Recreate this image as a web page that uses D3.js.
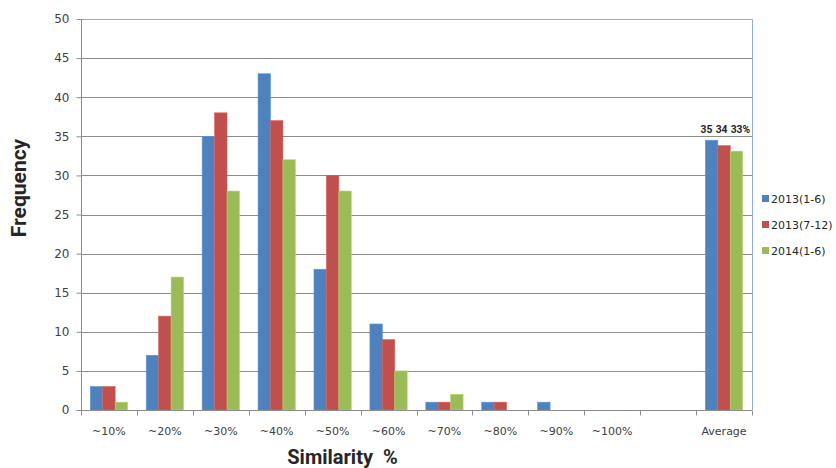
<!DOCTYPE html>
<html>
<head>
<meta charset="utf-8">
<script src="https://cdn.jsdelivr.net/npm/d3@7"></script>
<style>
  html, body { margin: 0; padding: 0; background: #fff; }
  svg { display: block; font-family: "DejaVu Sans", sans-serif; }
</style>
</head>
<body>
<svg id="chart" width="836" height="468"></svg>
<script>
// Similarity histogram: frequency per similarity band, three periods
const categories = ["~10%", "~20%", "~30%", "~40%", "~50%", "~60%", "~70%", "~80%", "~90%", "~100%", "", "Average"];
const seriesNames = ["2013(1-6)", "2013(7-12)", "2014(1-6)"];
const seriesColors = ["#4F81BD", "#C0504D", "#9BBB59"];
const values2013a = [3, 7, 35, 43, 18, 11, 1, 1, 1, 0, null, 34.5];
const values2013b = [3, 12, 38, 37, 30, 9, 1, 1, 0, 0, null, 33.8];
const values2014a = [1, 17, 28, 32, 28, 5, 2, 0, 0, 0, null, 33.1];
const yTicks = [0, 5, 10, 15, 20, 25, 30, 35, 40, 45, 50];

const seriesValues = [values2013a, values2013b, values2014a];
const averageIndex = categories.indexOf("Average");

const svg = d3.select("#chart");
const plotLeft = 81, plotRight = 752, plotTop = 19, plotBottom = 410;
const axisGray = "#8c8c8c";
const textGray = "#404040";

const x0 = d3.scaleBand().domain(d3.range(categories.length)).range([plotLeft, plotRight]).padding(0);
const slot = x0.bandwidth();
// three bars per category, gap between groups 1.5 bar widths
const x1 = d3.scaleBand().domain(d3.range(seriesNames.length)).range([slot / 6, slot * 5 / 6]).padding(0);
const y = d3.scaleLinear().domain([0, 50]).range([plotBottom, plotTop]);

// horizontal gridlines
svg.append("g")
  .selectAll("line")
  .data(yTicks.filter(t => t > 0 && t < 50))
  .join("line")
  .attr("x1", plotLeft).attr("x2", plotRight)
  .attr("y1", d => Math.round(y(d)) + 0.5).attr("y2", d => Math.round(y(d)) + 0.5)
  .attr("stroke", axisGray).attr("stroke-width", 1);

// plot-area border (top and right)
svg.append("path")
  .attr("d", `M${plotLeft},${Math.round(y(50)) + 0.5}H${plotRight + 0.5}V${plotBottom}`)
  .attr("fill", "none").attr("stroke", "#8eaadb").attr("stroke-width", 1);

// bars
const groups = svg.append("g")
  .selectAll("g")
  .data(categories.map((c, i) => i))
  .join("g")
  .attr("transform", i => `translate(${x0(i)},0)`);

groups.selectAll("rect")
  .data(i => seriesValues.map((vals, s) => ({ s, v: vals[i] })).filter(d => d.v != null && d.v > 0))
  .join("rect")
  .attr("x", d => x1(d.s))
  .attr("width", x1.bandwidth())
  .attr("y", d => y(d.v))
  .attr("height", d => y(0) - y(d.v))
  .attr("fill", d => seriesColors[d.s])
  .attr("stroke", d => d3.color(seriesColors[d.s]).brighter(0.4))
  .attr("stroke-width", 0.6);

// value labels on the Average group (nudged apart so they do not collide)
const pct = d3.format(".0f");
const avgLabels = seriesValues.map((vals, s) => ({ s, v: vals[averageIndex] }));
const labelY = y(d3.max(avgLabels, d => d.v)) - 7;
svg.append("g")
  .selectAll("text")
  .data(avgLabels)
  .join("text")
  .attr("x", d => x0(averageIndex) + x1(d.s) + x1.bandwidth() / 2 - 11 + d.s * 2.6)
  .attr("y", labelY)
  .attr("text-anchor", "start")
  .attr("font-family", "Roboto, sans-serif")
  .attr("font-size", 10.3)
  .attr("font-weight", "bold")
  .attr("fill", "#262626")
  .text(d => pct(d.v) + (d.s === seriesNames.length - 1 ? "%" : ""));

// y axis
const yAxis = d3.axisLeft(y).tickValues(yTicks).tickSize(5).tickPadding(7);
const gy = svg.append("g").attr("transform", `translate(${plotLeft + 0.5},0)`).call(yAxis);
gy.select(".domain").attr("stroke", axisGray).attr("d", `M0,${plotTop}V${plotBottom + 0.5}`);
gy.selectAll(".tick line").attr("stroke", axisGray);
gy.selectAll(".tick text")
  .attr("font-size", 12).attr("fill", textGray)
  .attr("font-family", "'DejaVu Sans', sans-serif");

// x axis: ticks at category boundaries
const gx = svg.append("g").attr("transform", `translate(0,${plotBottom + 0.5})`);
gx.append("line").attr("x1", plotLeft).attr("x2", plotRight).attr("stroke", axisGray);
gx.selectAll("line.tk")
  .data(d3.range(categories.length + 1))
  .join("line").attr("class", "tk")
  .attr("x1", i => Math.round(plotLeft + i * slot) + 0.5)
  .attr("x2", i => Math.round(plotLeft + i * slot) + 0.5)
  .attr("y1", 0).attr("y2", 5)
  .attr("stroke", axisGray);
gx.selectAll("text")
  .data(categories)
  .join("text")
  .attr("x", (c, i) => x0(i) + slot / 2)
  .attr("y", 24.5)
  .attr("text-anchor", "middle")
  .attr("font-size", 11)
  .attr("fill", textGray)
  .text(c => c);

// axis titles
svg.append("text")
  .attr("x", 342.5).attr("y", 464)
  .attr("text-anchor", "middle")
  .attr("font-family", "Roboto, sans-serif")
  .attr("font-size", 20).attr("font-weight", "bold")
  .attr("fill", "#262626")
  .attr("xml:space", "preserve")
  .text("Similarity  %");

svg.append("text")
  .attr("transform", "translate(26,188) rotate(-90)")
  .attr("text-anchor", "middle")
  .attr("font-family", "Roboto, sans-serif")
  .attr("font-size", 21).attr("font-weight", "bold")
  .attr("fill", "#262626")
  .text("Frequency");

// legend
const legend = svg.append("g")
  .selectAll("g")
  .data(seriesNames)
  .join("g")
  .attr("transform", (d, i) => `translate(762,${198.5 + i * 26})`);
legend.append("rect")
  .attr("x", 0).attr("y", -3.5).attr("width", 7).attr("height", 7)
  .attr("fill", (d, i) => seriesColors[i]);
legend.append("text")
  .attr("x", 9).attr("y", 4.5)
  .attr("font-size", 11).attr("fill", "#262626")
  .text(d => d);
</script>
</body>
</html>
